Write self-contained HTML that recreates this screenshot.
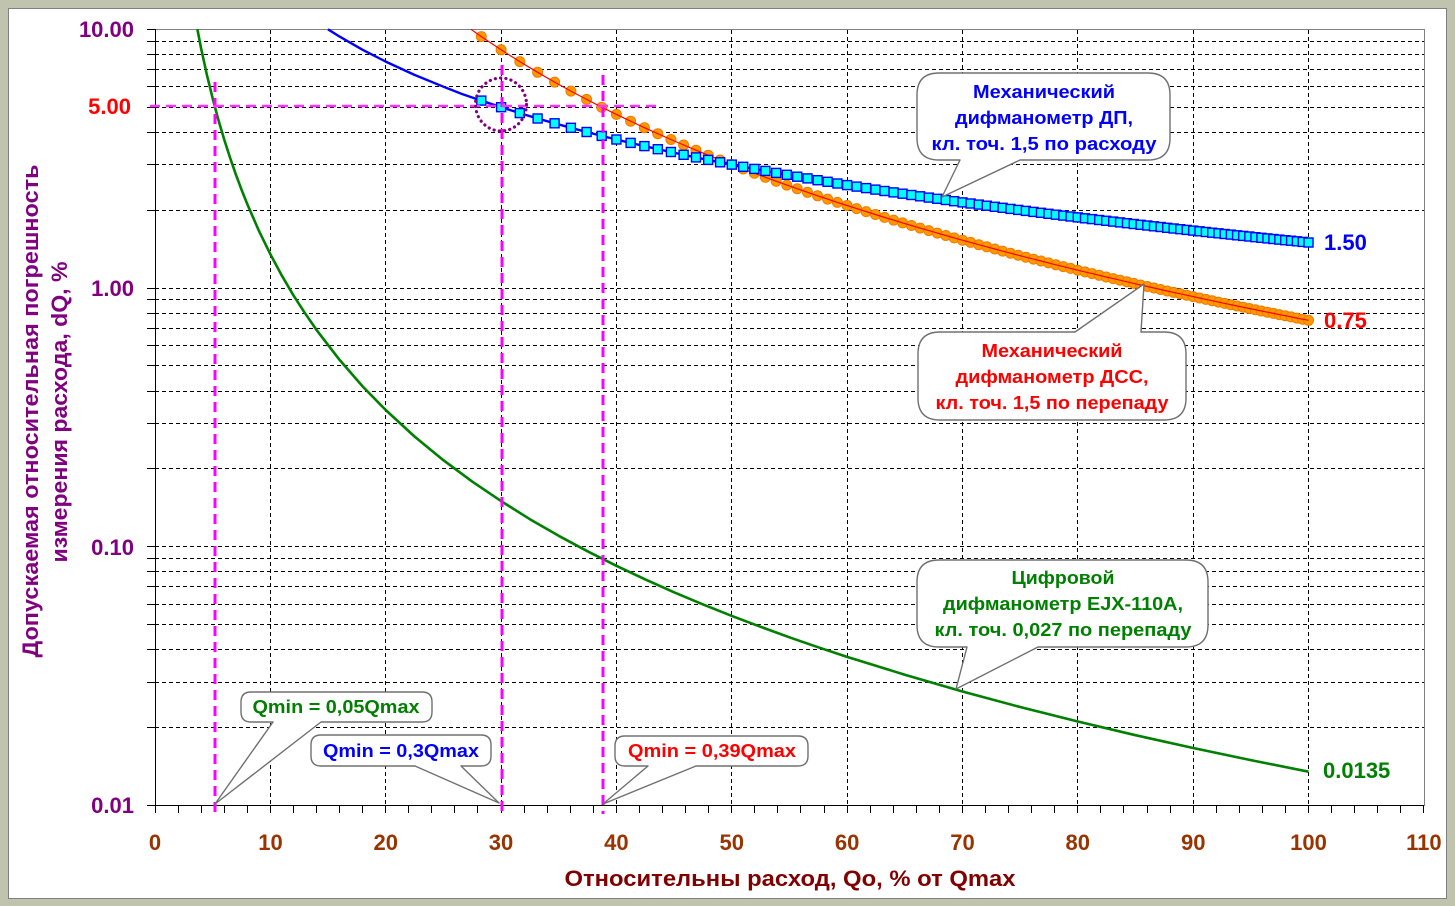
<!DOCTYPE html>
<html><head><meta charset="utf-8"><style>
html,body{margin:0;padding:0;background:#C0C4AF;}
svg{display:block;}
text{font-family:"Liberation Sans",Arial,sans-serif;font-weight:bold;}
</style></head><body>
<svg width="1455" height="906" viewBox="0 0 1455 906" xmlns="http://www.w3.org/2000/svg">
<defs>
<marker id="sq" markerWidth="12" markerHeight="12" refX="6" refY="6" markerUnits="userSpaceOnUse"><rect x="1.5" y="1.5" width="9" height="9" fill="#00FFFF" stroke="#0000FF" stroke-width="1.4"/></marker>
<marker id="ci" markerWidth="12" markerHeight="12" refX="6" refY="6" markerUnits="userSpaceOnUse"><circle cx="6" cy="6" r="5" fill="#FF9900" stroke="#F27A00" stroke-width="1"/></marker>
</defs>
<rect x="0" y="0" width="1455" height="906" fill="#C0C4AF"/>
<rect x="8.5" y="8.5" width="1438" height="890" fill="#FFFFFF" stroke="#808080" stroke-width="1"/>

<!-- grid -->
<g stroke="#000" stroke-width="1" stroke-dasharray="4,3" fill="none">
<path d="M155 727.5H1424M155 682.5H1424M155 649.5H1424M155 624.5H1424M155 604.5H1424M155 586.5H1424M155 571.5H1424M155 558.5H1424
M155 546.5H1424M155 468.5H1424M155 423.5H1424M155 391.5H1424M155 365.5H1424M155 345.5H1424M155 328.5H1424M155 313.5H1424M155 299.5H1424
M155 288.5H1424M155 210.5H1424M155 164.5H1424M155 132.5H1424M155 107.5H1424M155 86.5H1424M155 69.5H1424M155 54.5H1424M155 41.5H1424"/>
<path d="M270.5 30V805M385.5 30V805M501.5 30V805M616.5 30V805M731.5 30V805M847.5 30V805M962.5 30V805M1077.5 30V805M1193.5 30V805M1308.5 30V805"/>
</g>
<!-- plot border -->
<path d="M155 29.5H1424.5V805" stroke="#808080" stroke-width="1" fill="none"/>
<!-- axes -->
<g stroke="#000" stroke-width="1" fill="none">
<path d="M155.5 29V806M147 805.5H1424.5"/>
<path d="M147 29.5H155M147 41.5H155M147 54.5H155M147 69.5H155M147 86.5H155M147 107.5H155M147 132.5H155M147 164.5H155M147 210.5H155M147 288.5H155M147 299.5H155M147 313.5H155M147 328.5H155M147 345.5H155M147 365.5H155M147 391.5H155M147 423.5H155M147 468.5H155M147 546.5H155M147 558.5H155M147 571.5H155M147 586.5H155M147 604.5H155M147 624.5H155M147 649.5H155M147 682.5H155M147 727.5H155"/>
<path d="M155.5 805V813M178.5 805V813M201.5 805V813M224.5 805V813M247.5 805V813M270.5 805V813M293.5 805V813M316.5 805V813M339.5 805V813M362.5 805V813M385.5 805V813M408.5 805V813M431.5 805V813M454.5 805V813M477.5 805V813M501.5 805V813M524.5 805V813M547.5 805V813M570.5 805V813M593.5 805V813M616.5 805V813M639.5 805V813M662.5 805V813M685.5 805V813M708.5 805V813M731.5 805V813M754.5 805V813M777.5 805V813M800.5 805V813M824.5 805V813M847.5 805V813M870.5 805V813M893.5 805V813M916.5 805V813M939.5 805V813M962.5 805V813M985.5 805V813M1008.5 805V813M1031.5 805V813M1054.5 805V813M1077.5 805V813M1100.5 805V813M1123.5 805V813M1147.5 805V813M1170.5 805V813M1193.5 805V813M1216.5 805V813M1239.5 805V813M1262.5 805V813M1285.5 805V813M1308.5 805V813M1331.5 805V813M1354.5 805V813M1377.5 805V813M1400.5 805V813M1423.5 805V813"/>
</g>

<!-- green curve -->
<polyline fill="none" stroke="#008000" stroke-width="2.6" stroke-linejoin="round" points="197.4,29.3 201.1,48.4 206.9,74.9 212.7,98.5 218.4,119.9 224.2,139.5 230.0,157.5 235.7,174.1 241.5,189.6 247.3,204.1 258.8,230.6 270.4,254.3 281.9,275.7 293.4,295.3 305.0,313.2 316.5,329.9 339.6,359.9 362.6,386.4 385.7,410.0 414.5,436.5 443.4,460.2 472.2,481.6 501.1,501.1 529.9,519.2 558.7,535.8 587.6,551.3 616.4,565.8 645.3,579.4 674.1,592.3 703.0,604.4 731.8,615.9 760.6,626.8 789.4,637.3 818.3,647.3 847.1,656.9 904.8,674.7 962.5,691.5 1020.1,707.0 1077.8,721.5 1135.5,735.2 1193.2,748.0 1250.8,760.1 1308.5,771.7"/>

<!-- orange markers -->
<polyline fill="none" stroke="none" marker-start="url(#ci)" marker-mid="url(#ci)" marker-end="url(#ci)" points="481.3,36.6 501.1,49.8 519.8,61.6 537.6,72.3 554.6,82.1 570.9,91.1 586.6,99.4 601.7,107.2 616.4,114.4 630.6,121.2 644.4,127.7 657.8,133.7 670.9,139.5 683.6,145.0 696.0,150.2 708.2,155.2 720.1,160.0 731.8,164.6 743.2,169.0 754.4,173.2 765.4,177.3 776.2,181.2 786.8,185.1 797.2,188.7 807.5,192.3 817.6,195.8 827.6,199.1 837.4,202.4 847.1,205.5 856.6,208.6 866.1,211.6 875.4,214.5 884.5,217.4 893.6,220.1 902.6,222.9 911.4,225.5 920.1,228.1 928.8,230.6 937.3,233.1 945.8,235.5 954.2,237.9 962.5,240.2 970.6,242.4 978.8,244.7 986.8,246.8 994.8,249.0 1002.6,251.1 1010.5,253.2 1018.2,255.2 1025.9,257.2 1033.5,259.1 1041.0,261.0 1048.5,262.9 1055.9,264.8 1063.3,266.6 1070.6,268.4 1077.8,270.2 1085.0,271.9 1092.1,273.6 1099.2,275.3 1106.2,277.0 1113.2,278.6 1120.1,280.2 1127.0,281.8 1133.8,283.4 1140.6,285.0 1147.3,286.5 1154.0,288.0 1160.6,289.5 1167.2,291.0 1173.7,292.4 1180.3,293.8 1186.7,295.2 1193.2,296.6 1199.5,298.0 1205.9,299.4 1212.2,300.7 1218.5,302.1 1224.7,303.4 1230.9,304.7 1237.1,306.0 1243.2,307.2 1249.3,308.5 1255.4,309.7 1261.4,311.0 1267.4,312.2 1273.4,313.4 1279.3,314.6 1285.2,315.7 1291.1,316.9 1296.9,318.1 1302.7,319.2 1308.5,320.3"/>
<!-- red line -->
<polyline fill="none" stroke="#FF0000" stroke-width="1.2" stroke-linejoin="round" points="470.9,29.3 481.3,36.6 501.1,49.8 519.8,61.6 537.6,72.3 554.6,82.1 570.9,91.1 586.6,99.4 601.7,107.2 616.4,114.4 630.6,121.2 644.4,127.7 657.8,133.7 670.9,139.5 683.6,145.0 696.0,150.2 708.2,155.2 720.1,160.0 731.8,164.6 743.2,169.0 754.4,173.2 765.4,177.3 776.2,181.2 786.8,185.1 797.2,188.7 807.5,192.3 817.6,195.8 827.6,199.1 837.4,202.4 847.1,205.5 856.6,208.6 866.1,211.6 875.4,214.5 884.5,217.4 893.6,220.1 902.6,222.9 911.4,225.5 920.1,228.1 928.8,230.6 937.3,233.1 945.8,235.5 954.2,237.9 962.5,240.2 970.6,242.4 978.8,244.7 986.8,246.8 994.8,249.0 1002.6,251.1 1010.5,253.2 1018.2,255.2 1025.9,257.2 1033.5,259.1 1041.0,261.0 1048.5,262.9 1055.9,264.8 1063.3,266.6 1070.6,268.4 1077.8,270.2 1085.0,271.9 1092.1,273.6 1099.2,275.3 1106.2,277.0 1113.2,278.6 1120.1,280.2 1127.0,281.8 1133.8,283.4 1140.6,285.0 1147.3,286.5 1154.0,288.0 1160.6,289.5 1167.2,291.0 1173.7,292.4 1180.3,293.8 1186.7,295.2 1193.2,296.6 1199.5,298.0 1205.9,299.4 1212.2,300.7 1218.5,302.1 1224.7,303.4 1230.9,304.7 1237.1,306.0 1243.2,307.2 1249.3,308.5 1255.4,309.7 1261.4,311.0 1267.4,312.2 1273.4,313.4 1279.3,314.6 1285.2,315.7 1291.1,316.9 1296.9,318.1 1302.7,319.2 1308.5,320.3"/>

<!-- blue line -->
<polyline fill="none" stroke="#0000FF" stroke-width="2.4" stroke-linejoin="round" points="328.0,29.3 339.6,36.6 362.6,49.8 385.7,61.6 414.5,74.9 443.4,86.7 462.0,94.0 481.3,100.6 501.1,107.2 519.8,113.1 537.6,118.5 554.6,123.3 570.9,127.8 586.6,132.0 601.7,135.9 616.4,139.5 630.6,142.9 644.4,146.1 657.8,149.2 670.9,152.0 683.6,154.8 696.0,157.4 708.2,159.9 720.1,162.3 731.8,164.6 743.2,166.8 754.4,168.9 765.4,170.9 776.2,172.9 786.8,174.8 797.2,176.7 807.5,178.4 817.6,180.2 827.6,181.8 837.4,183.5 847.1,185.1 856.6,186.6 866.1,188.1 875.4,189.6 884.5,191.0 893.6,192.4 902.6,193.7 911.4,195.0 920.1,196.3 928.8,197.6 937.3,198.8 945.8,200.0 954.2,201.2 962.5,202.4 970.6,203.5 978.8,204.6 986.8,205.7 994.8,206.8 1002.6,207.8 1010.5,208.9 1018.2,209.9 1025.9,210.9 1033.5,211.9 1041.0,212.8 1048.5,213.8 1055.9,214.7 1063.3,215.6 1070.6,216.5 1077.8,217.4 1085.0,218.3 1092.1,219.1 1099.2,220.0 1106.2,220.8 1113.2,221.6 1120.1,222.4 1127.0,223.2 1133.8,224.0 1140.6,224.8 1147.3,225.5 1154.0,226.3 1160.6,227.0 1167.2,227.8 1173.7,228.5 1180.3,229.2 1186.7,229.9 1193.2,230.6 1199.5,231.3 1205.9,232.0 1212.2,232.7 1218.5,233.3 1224.7,234.0 1230.9,234.6 1237.1,235.3 1243.2,235.9 1249.3,236.5 1255.4,237.2 1261.4,237.8 1267.4,238.4 1273.4,239.0 1279.3,239.6 1285.2,240.2 1291.1,240.7 1296.9,241.3 1302.7,241.9 1308.5,242.5"/>
<!-- blue markers -->
<polyline fill="none" stroke="none" marker-start="url(#sq)" marker-mid="url(#sq)" marker-end="url(#sq)" points="481.3,100.6 501.1,107.2 519.8,113.1 537.6,118.5 554.6,123.3 570.9,127.8 586.6,132.0 601.7,135.9 616.4,139.5 630.6,142.9 644.4,146.1 657.8,149.2 670.9,152.0 683.6,154.8 696.0,157.4 708.2,159.9 720.1,162.3 731.8,164.6 743.2,166.8 754.4,168.9 765.4,170.9 776.2,172.9 786.8,174.8 797.2,176.7 807.5,178.4 817.6,180.2 827.6,181.8 837.4,183.5 847.1,185.1 856.6,186.6 866.1,188.1 875.4,189.6 884.5,191.0 893.6,192.4 902.6,193.7 911.4,195.0 920.1,196.3 928.8,197.6 937.3,198.8 945.8,200.0 954.2,201.2 962.5,202.4 970.6,203.5 978.8,204.6 986.8,205.7 994.8,206.8 1002.6,207.8 1010.5,208.9 1018.2,209.9 1025.9,210.9 1033.5,211.9 1041.0,212.8 1048.5,213.8 1055.9,214.7 1063.3,215.6 1070.6,216.5 1077.8,217.4 1085.0,218.3 1092.1,219.1 1099.2,220.0 1106.2,220.8 1113.2,221.6 1120.1,222.4 1127.0,223.2 1133.8,224.0 1140.6,224.8 1147.3,225.5 1154.0,226.3 1160.6,227.0 1167.2,227.8 1173.7,228.5 1180.3,229.2 1186.7,229.9 1193.2,230.6 1199.5,231.3 1205.9,232.0 1212.2,232.7 1218.5,233.3 1224.7,234.0 1230.9,234.6 1237.1,235.3 1243.2,235.9 1249.3,236.5 1255.4,237.2 1261.4,237.8 1267.4,238.4 1273.4,239.0 1279.3,239.6 1285.2,240.2 1291.1,240.7 1296.9,241.3 1302.7,241.9 1308.5,242.5"/>

<!-- magenta dashed lines -->
<g stroke="#FF00FF" stroke-width="3" stroke-dasharray="10,6" fill="none">
<path d="M215 82V814"/>
<path d="M502 65V814"/>
<path d="M603 75V814"/>
</g>
<path d="M150 106H656" stroke="#FF33FF" stroke-width="2.5" stroke-dasharray="10,6" fill="none"/>
<!-- dotted circle -->
<ellipse cx="501" cy="104.5" rx="25.5" ry="26.5" fill="none" stroke="#800080" stroke-width="3.2" stroke-dasharray="0.1,5.2" stroke-linecap="round"/>

<!-- callouts -->
<g fill="#FFFFFF" stroke="#707070" stroke-width="1.4" stroke-linejoin="round">
<path d="M939,73 H1148 Q1170,73 1170,95 V138 Q1170,160 1148,160 H1020 L942,197 L960,160 H939 Q917,160 917,138 V95 Q917,73 939,73 Z"/>
<path d="M940,332 H1075 L1144,284 L1141,332 H1164 Q1186,332 1186,354 V398 Q1186,420 1164,420 H940 Q918,420 918,398 V354 Q918,332 940,332 Z"/>
<path d="M939,560 H1186 Q1208,560 1208,582 V625 Q1208,647 1186,647 H1038 L956,689 L967,647 H939 Q917,647 917,625 V582 Q917,560 939,560 Z"/>
<path d="M251,692 H422 Q432,692 432,702 V712 Q432,722 422,722 H321 L215,804 L273,722 H251 Q241,722 241,712 V702 Q241,692 251,692 Z"/>
<path d="M321,735 H481 Q491,735 491,745 V756 Q491,766 481,766 H461 L499,803 L415,766 H321 Q311,766 311,756 V745 Q311,735 321,735 Z"/>
<path d="M625,736 H798 Q808,736 808,746 V756 Q808,766 798,766 H696 L603,804 L648,766 H625 Q615,766 615,756 V746 Q615,736 625,736 Z"/>
</g>

<!-- callout texts -->
<g font-size="18" text-anchor="middle" fill="#0000FF">
<text x="1044" y="98" textLength="142" lengthAdjust="spacingAndGlyphs">Механический</text>
<text x="1044" y="124" textLength="178" lengthAdjust="spacingAndGlyphs">дифманометр ДП,</text>
<text x="1044" y="150" textLength="225" lengthAdjust="spacingAndGlyphs">кл. точ. 1,5 по расходу</text>
</g>
<g font-size="18" text-anchor="middle" fill="#FF0000">
<text x="1052" y="357" textLength="141" lengthAdjust="spacingAndGlyphs">Механический</text>
<text x="1052" y="383" textLength="193" lengthAdjust="spacingAndGlyphs">дифманометр ДСС,</text>
<text x="1052" y="409" textLength="233" lengthAdjust="spacingAndGlyphs">кл. точ. 1,5 по перепаду</text>
</g>
<g font-size="18" text-anchor="middle" fill="#008000">
<text x="1063" y="584" textLength="103" lengthAdjust="spacingAndGlyphs">Цифровой</text>
<text x="1063" y="610" textLength="240" lengthAdjust="spacingAndGlyphs">дифманометр EJX-110A,</text>
<text x="1063" y="636" textLength="257" lengthAdjust="spacingAndGlyphs">кл. точ. 0,027 по перепаду</text>
</g>
<text x="336" y="713" font-size="18" text-anchor="middle" fill="#008000" textLength="167" lengthAdjust="spacingAndGlyphs">Qmin = 0,05Qmax</text>
<text x="401" y="757" font-size="18" text-anchor="middle" fill="#0000FF" textLength="156" lengthAdjust="spacingAndGlyphs">Qmin = 0,3Qmax</text>
<text x="712" y="757" font-size="18" text-anchor="middle" fill="#FF0000" textLength="168" lengthAdjust="spacingAndGlyphs">Qmin = 0,39Qmax</text>

<!-- right value labels -->
<text x="1324" y="250" font-size="22" fill="#0000FF">1.50</text>
<text x="1324" y="328" font-size="22" fill="#FF0000">0.75</text>
<text x="1323" y="778" font-size="22" fill="#008000">0.0135</text>

<!-- y tick labels -->
<g font-size="22" text-anchor="end" fill="#800080">
<text x="134" y="37">10.00</text>
<text x="131" y="114" fill="#FF0000">5.00</text>
<text x="134" y="296">1.00</text>
<text x="134" y="555">0.10</text>
<text x="134" y="813">0.01</text>
</g>

<!-- x tick labels -->
<g font-size="22" text-anchor="middle" fill="#993300">
<text x="155" y="850">0</text>
<text x="270.5" y="850">10</text>
<text x="385.7" y="850">20</text>
<text x="501" y="850">30</text>
<text x="616.4" y="850">40</text>
<text x="731.8" y="850">50</text>
<text x="847.1" y="850">60</text>
<text x="962.5" y="850">70</text>
<text x="1077.8" y="850">80</text>
<text x="1193.2" y="850">90</text>
<text x="1308.5" y="850">100</text>
<text x="1423.9" y="850">110</text>
</g>

<!-- axis titles -->
<text x="790" y="886" font-size="22" text-anchor="middle" fill="#800000" textLength="451" lengthAdjust="spacingAndGlyphs">Относительны расход, Qo, % от Qmax</text>
<text transform="translate(38,411) rotate(-90)" font-size="22" text-anchor="middle" fill="#800080" textLength="493" lengthAdjust="spacingAndGlyphs">Допускаемая относительная погрешность</text>
<text transform="translate(67,412) rotate(-90)" font-size="22" text-anchor="middle" fill="#800080" textLength="301" lengthAdjust="spacingAndGlyphs">измерения расхода, dQ, %</text>
</svg>
</body></html>
